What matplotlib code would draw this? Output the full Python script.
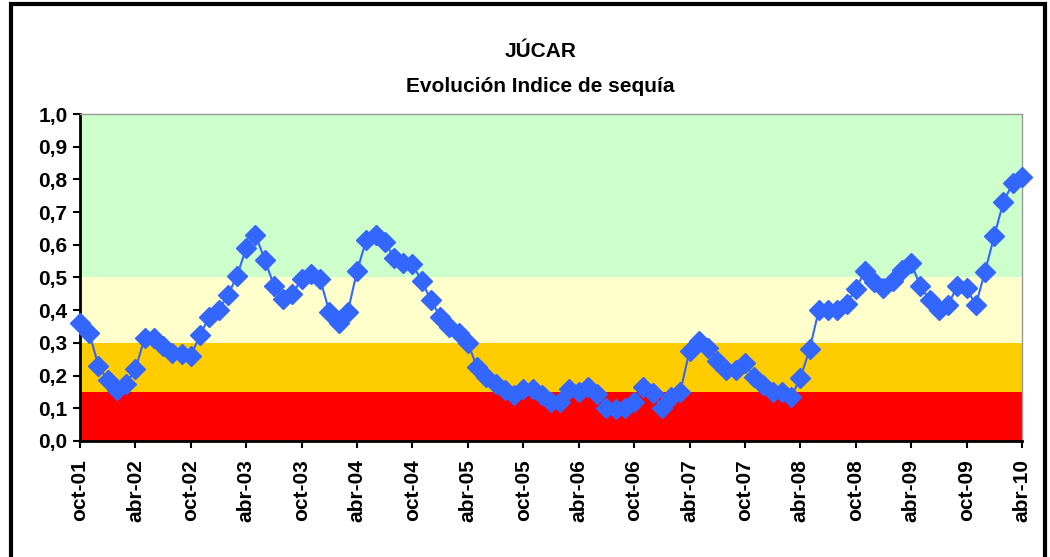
import numpy as np
import matplotlib.pyplot as plt
from matplotlib.patches import Rectangle

# indice de sequia mensual, oct-01 .. abr-10
indice = [0.36, 0.33, 0.23, 0.185, 0.155, 0.175, 0.22, 0.315, 0.315, 0.29,
          0.27, 0.265, 0.26, 0.325, 0.38, 0.40, 0.445, 0.505, 0.59, 0.63,
          0.555, 0.475, 0.435, 0.45, 0.495, 0.51, 0.495, 0.395, 0.36, 0.395,
          0.52, 0.615, 0.63, 0.61, 0.56, 0.545, 0.54, 0.49, 0.43, 0.38,
          0.35, 0.33, 0.30, 0.225, 0.195, 0.175, 0.155, 0.14, 0.16, 0.16,
          0.14, 0.12, 0.12, 0.158, 0.15, 0.166, 0.145, 0.10, 0.097, 0.10,
          0.12, 0.166, 0.148, 0.10, 0.133, 0.151, 0.275, 0.305, 0.285, 0.245,
          0.217, 0.217, 0.238, 0.195, 0.171, 0.15, 0.15, 0.135, 0.192, 0.28,
          0.40, 0.40, 0.40, 0.42, 0.465, 0.52, 0.487, 0.467, 0.49, 0.523,
          0.543, 0.474, 0.43, 0.40, 0.416, 0.474, 0.467, 0.416, 0.518, 0.627,
          0.732, 0.788, 0.808]

etiquetas_x = ['oct-01', 'abr-02', 'oct-02', 'abr-03', 'oct-03', 'abr-04',
               'oct-04', 'abr-05', 'oct-05', 'abr-06', 'oct-06', 'abr-07',
               'oct-07', 'abr-08', 'oct-08', 'abr-09', 'oct-09', 'abr-10']

# umbrales de las bandas de estado
limites = [0.0, 0.15, 0.3, 0.5, 1.0]
colores_banda = ['#FF0000', '#FFCC00', '#FFFFCC', '#CCFFCC']

etiquetas_y = ['0,0', '0,1', '0,2', '0,3', '0,4', '0,5', '0,6', '0,7', '0,8', '0,9', '1,0']

plt.rcParams['font.family'] = ['Liberation Sans', 'DejaVu Sans']

fig = plt.figure(figsize=(10.5, 5.57), dpi=100)
ax = fig.add_axes([0.0762, 0.2083, 0.8971, 0.587])

x = np.arange(len(indice))

for i in range(len(colores_banda)):
    ax.axhspan(limites[i], limites[i + 1], color=colores_banda[i], zorder=0, lw=0)

ax.plot(x, indice, color='#3366FF', lw=1.5, marker='D', markersize=10.5,
        markerfacecolor='#3366FF', markeredgecolor='#3366FF', clip_on=False, zorder=3)

ax.set_xlim(0, len(indice) - 1)
ax.set_ylim(0, 1)

ax.set_yticks(np.arange(0, 1.01, 0.1))
ax.set_yticklabels(etiquetas_y, fontsize=15, fontweight='bold')
ax.set_xticks(np.arange(0, len(indice), 6))
ax.set_xticklabels(etiquetas_x, rotation=90, fontsize=15, fontweight='bold')
ax.tick_params(direction='out', length=5, width=1.5, color='black')
ax.tick_params(axis='x', pad=8)
ax.tick_params(axis='y', pad=4)

ax.spines['left'].set_linewidth(2)
ax.spines['bottom'].set_linewidth(2)
ax.spines['top'].set_color('#999999')
ax.spines['right'].set_color('#999999')
ax.spines['top'].set_linewidth(1)
ax.spines['right'].set_linewidth(1)

fig.text(0.515, 0.908, 'JÚCAR', ha='center', va='center', fontsize=15, fontweight='bold')
fig.text(0.515, 0.845, 'Evolución Indice de sequía', ha='center', va='center',
         fontsize=15, fontweight='bold')

# marco del grafico
marco = Rectangle((0.0105, -0.05), 0.985, 1.043, transform=fig.transFigure,
                  fill=False, edgecolor='black', linewidth=3)
fig.patches.append(marco)

plt.savefig('out.png', dpi=100)
